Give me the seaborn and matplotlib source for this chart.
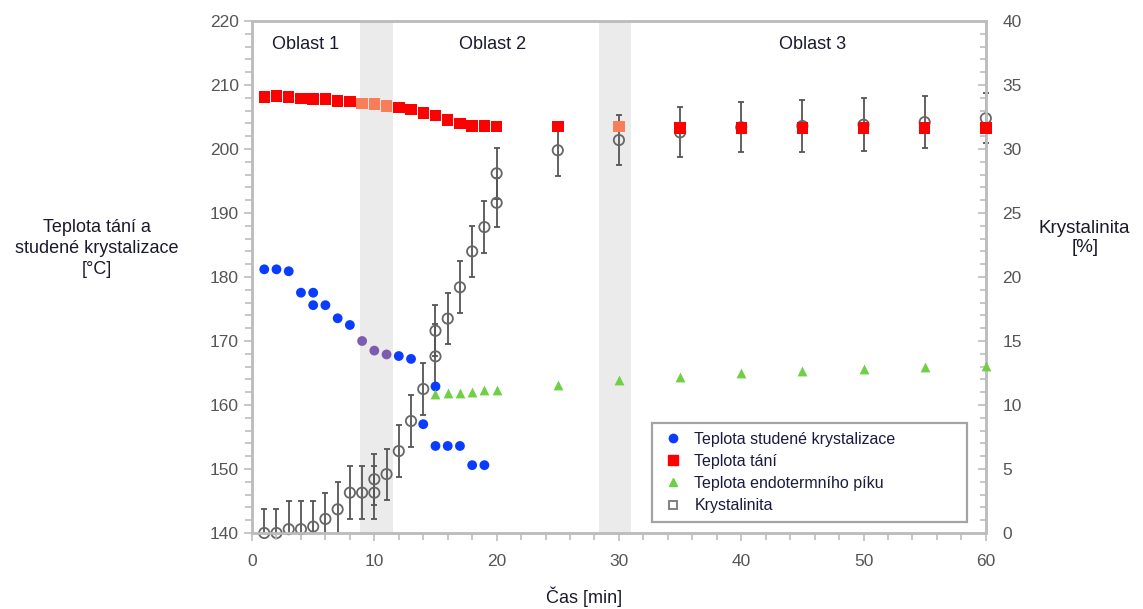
import matplotlib
matplotlib.use("Agg")
import matplotlib.pyplot as plt
import seaborn as sns
import pandas as pd
from matplotlib.ticker import MultipleLocator
from matplotlib.lines import Line2D
from matplotlib.transforms import Bbox, TransformedBbox

# ---- data ----
cas_tani = [1, 2, 3, 4, 5, 6, 7, 8, 9, 10, 11, 12, 13, 14, 15, 16, 17, 18, 19, 20,
            25, 30, 35, 40, 45, 50, 55, 60]
teplota_tani = [208.1, 208.3, 208.1, 207.9, 207.8, 207.8, 207.5, 207.4, 207.1, 207.0,
                206.7, 206.45, 206.2, 205.6, 205.2, 204.5, 204.0, 203.6, 203.6, 203.5,
                203.5, 203.5, 203.3, 203.3, 203.3, 203.3, 203.3, 203.3]

cas_stud = [1, 2, 3, 4, 5, 5, 6, 7, 8, 9, 10, 11, 12, 13, 14, 15, 15, 16, 17, 18, 19]
teplota_stud = [181.2, 181.2, 180.9, 177.55, 177.55, 175.6, 175.6, 173.55, 172.5, 170.0,
                168.5, 167.9, 167.65, 167.2, 157.0, 162.9, 153.6, 153.6, 153.6, 150.6, 150.6]

cas_endo = [15, 16, 17, 18, 19, 20, 25, 30, 35, 40, 45, 50, 55, 60]
teplota_endo = [161.7, 161.8, 161.8, 162.05, 162.4, 162.4, 163.2, 163.9, 164.4, 164.95,
                165.3, 165.6, 165.9, 166.15]

cas_kryst = [1, 2, 3, 4, 5, 6, 7, 8, 9, 10, 10, 11, 12, 13, 14, 15, 15, 16, 17, 18, 19,
             20, 20, 25, 30, 35, 40, 45, 50, 55, 60]
krystalinita = [0.0, 0.0, 0.3, 0.3, 0.5, 1.1, 1.85, 3.15, 3.15, 3.15, 4.2, 4.6, 6.4, 8.75,
                11.25, 13.8, 15.8, 16.75, 19.2, 22.0, 23.9, 25.8, 28.1, 29.9, 30.7, 31.3,
                31.7, 31.8, 31.9, 32.1, 32.4]
kryst_chyba = [1.9, 1.9, 2.2, 2.2, 2.0, 2.0, 2.1, 2.05, 2.05, 2.05, 2.0, 2.0, 2.0, 2.05,
               2.0, 2.5, 2.0, 2.0, 2.05, 2.0, 2.05, 1.9, 2.0, 2.0, 1.95, 1.95, 1.95, 2.0,
               2.05, 2.05, 1.95]

# times measured in transition (grey) zones
prechod_cas = [9, 10, 11, 30]
prechodove_oblasti = [(8.8, 11.5), (28.4, 31.0)]
oblasti = ["Oblast 1", "Oblast 2", "Oblast 3"]
oblasti_x = [4.4, 19.7, 45.8]

# ---- figure ----
sns.set_theme(style="white")
plt.rcParams['font.family'] = ['Liberation Sans', 'DejaVu Sans']

fig = plt.figure(figsize=(11.43, 6.09), dpi=100)
ax = fig.add_axes([0.2205, 0.1248, 0.642, 0.8407])
ax2 = ax.twinx()
ax.set_zorder(ax2.get_zorder() + 1)
ax.patch.set_visible(False)

# grey transition bands
for a, b in prechodove_oblasti:
    ax2.axvspan(a, b, color="#ebebeb", zorder=0, lw=0)

# crystallinity (right axis)
eb = ax2.errorbar(cas_kryst, krystalinita, yerr=kryst_chyba, fmt="none", ecolor="#555555",
                  elinewidth=1.3, capsize=2.5, capthick=1.3, zorder=2)
clipbox = TransformedBbox(Bbox([[-0.03, 0.0], [1.03, 1.0]]), ax2.transAxes)
for art in eb.get_children():
    art.set_clip_box(clipbox)
dfk = pd.DataFrame({"cas": cas_kryst, "k": krystalinita})
sns.scatterplot(data=dfk, x="cas", y="k", ax=ax2, marker="o", s=55,
                facecolor="none", edgecolor="#666666", linewidth=1.3, zorder=3,
                legend=False, clip_on=False)

# melting temperature
dft = pd.DataFrame({"cas": cas_tani, "t": teplota_tani})
dft["z"] = dft["cas"].isin(prechod_cas).map({True: "p", False: "n"})
sns.scatterplot(data=dft, x="cas", y="t", hue="z", palette={"n": "#ff0000", "p": "#fa7d5a"},
                marker="s", s=68, linewidth=0, ax=ax, legend=False, zorder=4, clip_on=False)

# cold crystallization
dfs = pd.DataFrame({"cas": cas_stud, "t": teplota_stud})
dfs["z"] = dfs["cas"].isin(prechod_cas).map({True: "p", False: "n"})
sns.scatterplot(data=dfs, x="cas", y="t", hue="z", palette={"n": "#0a3cff", "p": "#7d5cb0"},
                marker="o", s=50, linewidth=0, ax=ax, legend=False, zorder=4, clip_on=False)

# endothermic peak
dfe = pd.DataFrame({"cas": cas_endo, "t": teplota_endo})
sns.scatterplot(data=dfe, x="cas", y="t", marker="^", s=50, color="#6fcf45",
                linewidth=0, ax=ax, legend=False, zorder=4, clip_on=False)

# axes limits & ticks
ax.set_xlim(0, 60)
ax.set_ylim(140, 220)
ax2.set_ylim(0, 40)
ax.xaxis.set_major_locator(MultipleLocator(10))
ax.xaxis.set_minor_locator(MultipleLocator(2))
ax.yaxis.set_major_locator(MultipleLocator(10))
ax.yaxis.set_minor_locator(MultipleLocator(2))
ax2.yaxis.set_major_locator(MultipleLocator(5))
ax2.yaxis.set_minor_locator(MultipleLocator(1))

tick_col = "#555555"
spine_col = "#bdbdbd"
for a in (ax, ax2):
    for s in a.spines.values():
        s.set_color(spine_col)
        s.set_linewidth(1.8)
ax.tick_params(axis="both", which="both", direction="out", color=spine_col, width=1.2,
               labelcolor=tick_col, labelsize=12.5, bottom=True, left=True)
ax.tick_params(axis="x", pad=9)
ax.tick_params(which="major", length=6)
ax.tick_params(which="minor", length=5)
ax2.tick_params(axis="y", which="both", direction="in", color=spine_col, width=1.2,
                labelcolor=tick_col, labelsize=12.5, right=True, pad=12)
ax2.tick_params(which="major", length=6)
ax2.tick_params(which="minor", length=4)
ax.set_xlabel("")
ax.set_ylabel("")
ax2.set_ylabel("")

# labels
fig.text(0.085, 0.592, "Teplota tání a\nstudené krystalizace\n[°C]", ha="center", va="center",
         fontsize=13, color="#1a1a2e", linespacing=1.3)
fig.text(0.949, 0.609, "Krystalinita\n[%]", ha="center", va="center",
         fontsize=13.5, color="#1a1a2e", linespacing=1.2)
fig.text(0.511, 0.02, "Čas [min]", ha="center", va="center", fontsize=13, color="#1a1a2e")

for name, xv in zip(oblasti, oblasti_x):
    ax.text(xv, 216.4, name, ha="center", va="center", fontsize=13, color="#1a1a2e")

# legend
handles = [
    Line2D([], [], marker="o", color="#0a3cff", ls="none", markersize=6),
    Line2D([], [], marker="s", color="#ff0000", ls="none", markersize=7.5),
    Line2D([], [], marker="^", color="#6fcf45", ls="none", markersize=6),
    Line2D([], [], marker="s", markerfacecolor="none", markeredgecolor="#777777",
           ls="none", markersize=6, markeredgewidth=1.3),
]
labels = ["Teplota studené krystalizace", "Teplota tání",
          "Teplota endotermního píku", "Krystalinita"]
leg = ax.legend(handles, labels, loc="upper left", bbox_to_anchor=(0.545, 0.215, 0.43, 0.0),
                mode="expand", fancybox=False, frameon=True, fontsize=11.5,
                handletextpad=0.6, labelspacing=0.45, borderpad=0.55, handlelength=1.5,
                borderaxespad=0)
leg.get_frame().set_edgecolor("#8c8c8c")
leg.get_frame().set_linewidth(1.6)
for t in leg.get_texts():
    t.set_color("#1a1a40")

fig.savefig("out.png", dpi=100)
